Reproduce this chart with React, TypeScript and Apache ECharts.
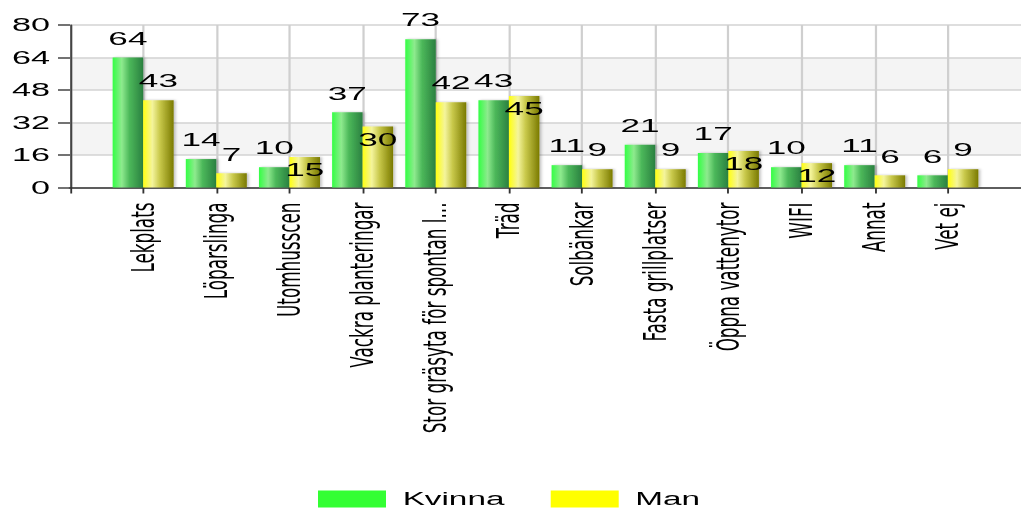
import React, { useEffect, useRef } from "react";
import * as echarts from "echarts";

const categories = [
  "Lekplats",
  "Löparslinga",
  "Utomhusscen",
  "Vackra planteringar",
  "Stor gräsyta för spontan l...",
  "Träd",
  "Solbänkar",
  "Fasta grillplatser",
  "Öppna vattenytor",
  "WIFI",
  "Annat",
  "Vet ej",
];
const kvinna = [64, 14, 10, 37, 73, 43, 11, 21, 17, 10, 11, 6];
const man = [43, 7, 15, 30, 42, 45, 9, 9, 18, 12, 6, 9];
const yTicks = { min: 0, max: 80, interval: 16 };
// categories whose "Man" label sits inside the top of the bar (collision with the Kvinna label)
const manLabelInside = ["Utomhusscen", "Vackra planteringar", "Träd", "Öppna vattenytor", "WIFI"];

const S = 1.85; // horizontal stretch of the reference
const H = 509;
const W = 1021 / S;

export default function App() {
  const ref = useRef<HTMLDivElement>(null);
  useEffect(() => {
    document.body.style.margin = "0";
    if (!ref.current) return;
    const chart = echarts.init(ref.current, null, { renderer: "svg", width: W, height: H });
    const font = "Liberation Sans";
    const rotFont = "DejaVu Sans";
    const axisCats = ["", ...categories, ""];
    const kData = ["-", ...kvinna, "-"];
    const mData: any[] = [
      "-",
      ...man.map((v, i) =>
        manLabelInside.includes(categories[i])
          ? { value: v, label: { position: "insideTop", distance: 3 } }
          : v
      ),
      "-",
    ];
    const labelStyle = {
      show: true,
      position: "top",
      distance: 10,
      color: "#000",
      fontFamily: font,
      fontSize: 19,
    };
    const option: any = {
      animation: false,
      backgroundColor: "#fff",
      grid: {
        left: 70 / S,
        right: W - 1032 / S,
        top: 25,
        bottom: H - 187.5,
        containLabel: false,
      },
      legend: {
        left: 318 / S,
        top: 490,
        padding: 0,
        itemWidth: 68 / S,
        itemHeight: 17,
        itemGap: 25,
        icon: "rect",
        textStyle: {
          fontFamily: font,
          fontSize: 18,
          lineHeight: 14,
          color: "#000",
          padding: [0, 0, 0, 4],
        },
        data: [
          { name: "Kvinna", itemStyle: { color: "#33ff33" } },
          { name: "Man", itemStyle: { color: "#ffff00" } },
        ],
      },
      xAxis: {
        type: "category",
        data: axisCats,
        boundaryGap: false,
        axisLine: { show: true, lineStyle: { color: "#333", width: 1.5 } },
        axisTick: { show: true, interval: 0, length: 6, lineStyle: { color: "#333", width: 1 } },
        axisLabel: {
          interval: 0,
          rotate: 90,
          margin: 15,
          color: "#000",
          fontFamily: rotFont,
          fontSize: 16.8,
        },
        splitLine: { show: true, interval: 0, lineStyle: { color: "#cfcfcf", width: 1.2 } },
      },
      yAxis: {
        type: "value",
        min: yTicks.min,
        max: yTicks.max,
        interval: yTicks.interval,
        axisLine: { show: true, lineStyle: { color: "#444", width: 1.1 } },
        axisTick: { show: true, length: 12 / S, lineStyle: { color: "#444", width: 1.5 } },
        axisLabel: {
          margin: 20 / S,
          color: "#000",
          fontFamily: font,
          fontSize: 18.5,
        },
        splitLine: { show: true, lineStyle: { color: "#d3d3d3", width: 1.5 } },
        splitArea: { show: true, areaStyle: { color: ["rgba(255,255,255,0)", "#f4f4f4"] } },
      },
      series: [
        {
          name: "Kvinna",
          type: "bar",
          data: kData,
          barWidth: 30.5 / S,
          barGap: "0%",
          itemStyle: {
            color: new echarts.graphic.LinearGradient(0, 0, 1, 0, [
              { offset: 0, color: "#33ff44" },
              { offset: 0.3, color: "#8eea8e" },
              { offset: 0.55, color: "#4cb85a" },
              { offset: 1, color: "#2a8040" },
            ]),
            shadowColor: "rgba(0,0,0,0.25)",
            shadowOffsetX: 1,
            shadowBlur: 2,
          },
          label: labelStyle,
        },
        {
          name: "Man",
          type: "bar",
          data: mData,
          barWidth: 30.5 / S,
          barGap: "0%",
          itemStyle: {
            color: new echarts.graphic.LinearGradient(0, 0, 1, 0, [
              { offset: 0, color: "#ffff10" },
              { offset: 0.3, color: "#f4f49c" },
              { offset: 0.55, color: "#c8c84a" },
              { offset: 1, color: "#7a7a00" },
            ]),
            shadowColor: "rgba(0,0,0,0.25)",
            shadowOffsetX: 1,
            shadowBlur: 2,
          },
          label: labelStyle,
        },
      ],
    };
    chart.setOption(option);
    return () => chart.dispose();
  }, []);
  return (
    <div
      style={{
        width: 1021,
        height: H,
        overflow: "hidden",
        position: "relative",
        background: "#fff",
      }}
    >
      <div
        ref={ref}
        style={{
          width: W,
          height: H,
          transform: `scaleX(${S})`,
          transformOrigin: "0 0",
        }}
      />
    </div>
  );
}
